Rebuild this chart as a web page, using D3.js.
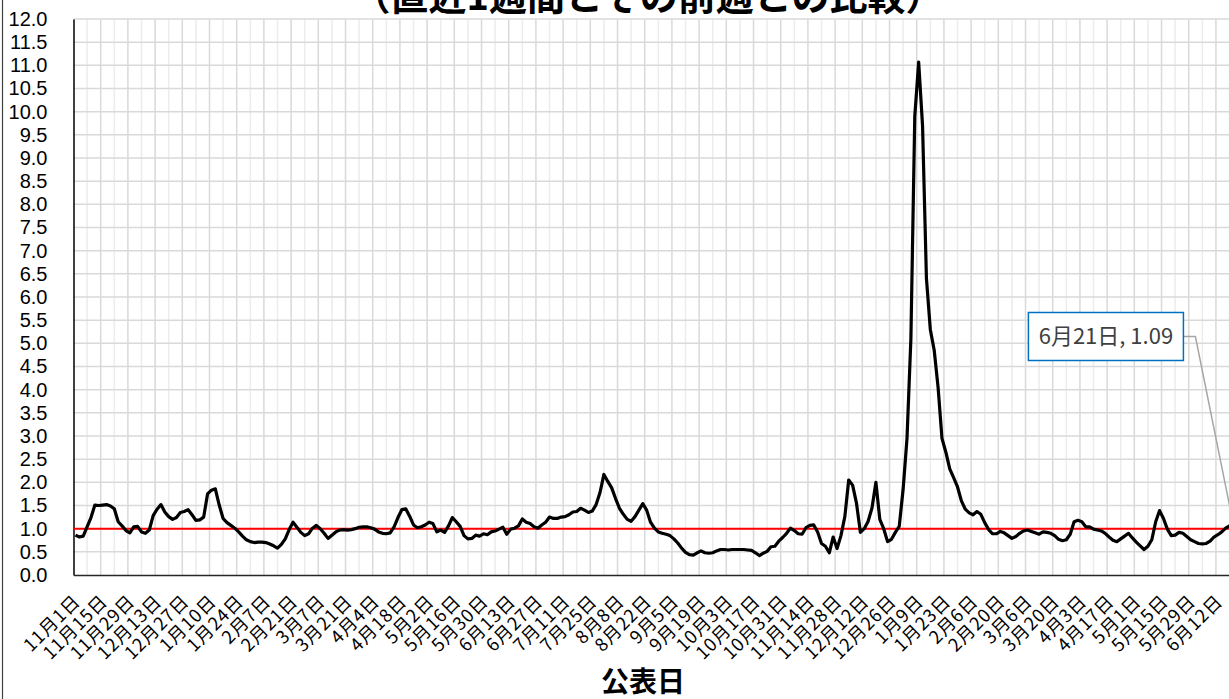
<!DOCTYPE html>
<html>
<head>
<meta charset="utf-8">
<script src="https://cdn.jsdelivr.net/npm/d3@7"></script>
<style>
  html, body { margin: 0; padding: 0; background: #fff; overflow: hidden; }
</style>
</head>
<body>
<div id="chart"></div>
<script>
// chart texts
const chartTitle = '（直近1週間とその前週との比較）'
const xAxisTitle = '公表日'

// x axis: first and last day, label step and grid step (days)
const axisStart = '2020-11-01'
const axisEnd = '2022-06-21'
const labelStepDays = 14
const gridStepDays = 7

// series: ratio vs. previous week, one value every 2 days from 11/2
const seriesStart = '2020-11-02'
const seriesStepDays = 2
const ratioValues = [
  0.86, 0.82, 0.84, 1.04, 1.24, 1.51, 1.50, 1.51, 1.52, 1.49,
  1.43, 1.15, 1.06, 0.96, 0.91, 1.04, 1.05, 0.93, 0.90, 0.97,
  1.28, 1.42, 1.52, 1.36, 1.26, 1.20, 1.24, 1.35, 1.37, 1.41,
  1.30, 1.18, 1.19, 1.25, 1.75, 1.83, 1.86, 1.51, 1.22, 1.13,
  1.07, 1.01, 0.93, 0.84, 0.76, 0.72, 0.70, 0.71, 0.71, 0.70,
  0.67, 0.63, 0.58, 0.66, 0.78, 0.98, 1.14, 1.03, 0.92, 0.85,
  0.89, 1.01, 1.07, 1.00, 0.90, 0.79, 0.86, 0.93, 0.97, 0.98,
  0.97, 0.98, 1.00, 1.03, 1.04, 1.04, 1.02, 0.99, 0.93, 0.90,
  0.89, 0.91, 1.04, 1.24, 1.41, 1.43, 1.27, 1.08, 1.02, 1.04,
  1.08, 1.14, 1.11, 0.93, 0.97, 0.92, 1.06, 1.24, 1.15, 1.05,
  0.85, 0.78, 0.79, 0.86, 0.84, 0.89, 0.87, 0.93, 0.95, 0.99,
  1.03, 0.88, 0.99, 1.01, 1.06, 1.21, 1.14, 1.11, 1.04, 1.01,
  1.08, 1.14, 1.25, 1.22, 1.22, 1.25, 1.26, 1.30, 1.36, 1.37,
  1.44, 1.40, 1.35, 1.38, 1.52, 1.78, 2.17, 2.02, 1.88, 1.65,
  1.44, 1.31, 1.20, 1.16, 1.26, 1.40, 1.54, 1.40, 1.14, 1.01,
  0.93, 0.90, 0.88, 0.85, 0.78, 0.69, 0.58, 0.49, 0.44, 0.43,
  0.48, 0.52, 0.48, 0.47, 0.48, 0.52, 0.55, 0.55, 0.54, 0.55,
  0.55, 0.55, 0.55, 0.54, 0.53, 0.48, 0.42, 0.47, 0.51, 0.61,
  0.62, 0.73, 0.81, 0.90, 1.01, 0.96, 0.89, 0.88, 1.02, 1.07,
  1.08, 0.93, 0.68, 0.62, 0.48, 0.82, 0.57, 0.85, 1.26, 2.05,
  1.94, 1.55, 0.92, 1.00, 1.16, 1.45, 2.00, 1.20, 1.00, 0.72,
  0.77, 0.92, 1.05, 1.85, 2.95, 5.10, 9.90, 11.07, 9.70, 6.40,
  5.30, 4.85, 4.05, 2.95, 2.65, 2.29, 2.10, 1.90, 1.60, 1.42,
  1.34, 1.30, 1.37, 1.31, 1.13, 0.98, 0.89, 0.89, 0.94, 0.91,
  0.85, 0.79, 0.83, 0.90, 0.95, 0.97, 0.94, 0.91, 0.88, 0.93,
  0.92, 0.90, 0.85, 0.77, 0.74, 0.76, 0.88, 1.15, 1.18, 1.15,
  1.04, 1.04, 0.99, 0.97, 0.95, 0.90, 0.82, 0.75, 0.72, 0.78,
  0.84, 0.90, 0.80, 0.71, 0.63, 0.55, 0.62, 0.76, 1.15, 1.39,
  1.22, 0.99, 0.85, 0.86, 0.92, 0.90, 0.83, 0.76, 0.72, 0.68,
  0.67, 0.68, 0.73, 0.82, 0.87, 0.93, 1.01, 1.06, 1.09
]

// y axis
const yTicks = [0, 0.5, 1, 1.5, 2, 2.5, 3, 3.5, 4, 4.5, 5, 5.5, 6,
                6.5, 7, 7.5, 8, 8.5, 9, 9.5, 10, 10.5, 11, 11.5, 12]
const referenceValue = 1.0

const width = 1229
const height = 699
const margin = {left: 73.5, top: 19, bottom: 124}
const pxPerDay = 1.9429

const parse = d3.utcParse('%Y-%m-%d')
const fmtLabel = d3.utcFormat('%-m月%-d日')
const t0 = parse(axisStart)
const t1 = parse(axisEnd)
const s0 = parse(seriesStart)

const data = ratioValues.map((v, i) => ({
  date: d3.utcDay.offset(s0, i * seriesStepDays),
  value: v
}))
const last = data[data.length - 1]

const x = d3.scaleUtc()
  .domain([t0, t1])
  .range([margin.left, margin.left + d3.utcDay.count(t0, t1) * pxPerDay])

const y = d3.scaleLinear()
  .domain([0, 12])
  .range([height - margin.bottom, margin.top])

const svg = d3.select('#chart')
  .append('svg')
    .attr('width', width)
    .attr('height', height)
    .style('display', 'block')

// outer frame (only the left edge shows in the crop)
svg.append('line')
  .attr('x1', 2.5).attr('x2', 2.5)
  .attr('y1', 0).attr('y2', height)
  .attr('stroke', '#404040')
  .attr('stroke-width', 1.2)

// vertical grid, darker on label days
const gridDates = d3.utcDay.range(t0, d3.utcDay.offset(t1, 1), gridStepDays)
svg.append('g')
  .selectAll('line')
  .data(gridDates.slice(1))
  .join('line')
    .attr('x1', d => x(d)).attr('x2', d => x(d))
    .attr('y1', y(12)).attr('y2', y(0))
    .attr('stroke', (d, i) => (i % 2 === 0) ? '#ececec' : '#d9d9d9')
    .attr('stroke-width', 1.5)

// horizontal grid
svg.append('g')
  .selectAll('line')
  .data(yTicks.slice(1))
  .join('line')
    .attr('x1', x(t0)).attr('x2', width)
    .attr('y1', d => y(d)).attr('y2', d => y(d))
    .attr('stroke', '#d9d9d9')
    .attr('stroke-width', 1.5)

// y axis
const yAxis = svg.append('g')
  .attr('transform', 'translate(' + margin.left + ',0)')
  .call(d3.axisLeft(y)
    .tickValues(yTicks)
    .tickSize(0)
    .tickPadding(26)
    .tickFormat(d => d.toFixed(1)))
yAxis.select('.domain').attr('stroke', '#000').attr('stroke-width', 1.5)
yAxis.selectAll('text')
  .attr('fill', '#000')
  .style('font-family', '"Liberation Sans", Arial, sans-serif')
  .style('font-size', '20px')

// x axis
const labelDates = d3.utcDay.range(t0, d3.utcDay.offset(t1, 1), labelStepDays)
const xAxis = svg.append('g')
  .attr('transform', 'translate(0,' + y(0) + ')')
  .call(d3.axisBottom(x)
    .tickValues(labelDates)
    .tickSize(0)
    .tickFormat(fmtLabel))
xAxis.select('.domain').attr('stroke', '#262626').attr('stroke-width', 1.5)
xAxis.selectAll('text')
  .attr('x', 0).attr('y', 0).attr('dy', '0.35em')
  .attr('transform', 'translate(3,23) rotate(-45)')
  .attr('text-anchor', 'end')
  .attr('fill', '#000')
  .style('font-family', '"Noto Sans CJK JP", sans-serif')
  .style('font-size', '18px')
  .style('letter-spacing', '1px')

// reference line at 1.0
svg.append('line')
  .attr('x1', x(t0)).attr('x2', width)
  .attr('y1', y(referenceValue)).attr('y2', y(referenceValue))
  .attr('stroke', '#ff0000')
  .attr('stroke-width', 2)

// the series
const line = d3.line()
  .x(d => x(d.date))
  .y(d => y(d.value))

svg.append('path')
  .datum(data)
  .attr('fill', 'none')
  .attr('stroke', '#000')
  .attr('stroke-width', 3.2)
  .attr('stroke-linejoin', 'round')
  .attr('d', line)

// data label for the last point
const lx = x(last.date)
const ly = y(last.value)
const boxW = 155
const boxH = 48
const boxX = lx - 205
const boxY = ly - 212

svg.append('polyline')
  .attr('points', [[boxX + boxW, boxY + boxH / 2],
                   [boxX + boxW + 12, boxY + boxH / 2],
                   [lx, ly]].join(' '))
  .attr('fill', 'none')
  .attr('stroke', '#a6a6a6')
  .attr('stroke-width', 1.5)

svg.append('rect')
  .attr('x', boxX).attr('y', boxY)
  .attr('width', boxW).attr('height', boxH)
  .attr('fill', '#fff')
  .attr('stroke', '#0070c0')
  .attr('stroke-width', 1.5)

svg.append('text')
  .attr('x', boxX + boxW / 2)
  .attr('y', boxY + boxH / 2)
  .attr('dy', '0.35em')
  .attr('text-anchor', 'middle')
  .attr('fill', '#404040')
  .style('font-family', '"Noto Sans CJK JP", sans-serif')
  .style('font-size', '22px')
  .text(fmtLabel(last.date) + ', ' + last.value.toFixed(2))

// titles (the chart is cropped at top, as in the source)
svg.append('text')
  .attr('x', 648)
  .attr('y', 10)
  .attr('text-anchor', 'middle')
  .attr('fill', '#000')
  .style('font-family', '"Noto Sans CJK JP", sans-serif')
  .style('font-weight', 700)
  .style('font-size', '38px')
  .text(chartTitle)

svg.append('text')
  .attr('x', 643)
  .attr('y', 692)
  .attr('text-anchor', 'middle')
  .attr('fill', '#000')
  .style('font-family', '"Noto Sans CJK JP", sans-serif')
  .style('font-weight', 700)
  .style('font-size', '28px')
  .text(xAxisTitle)
</script>
</body>
</html>
